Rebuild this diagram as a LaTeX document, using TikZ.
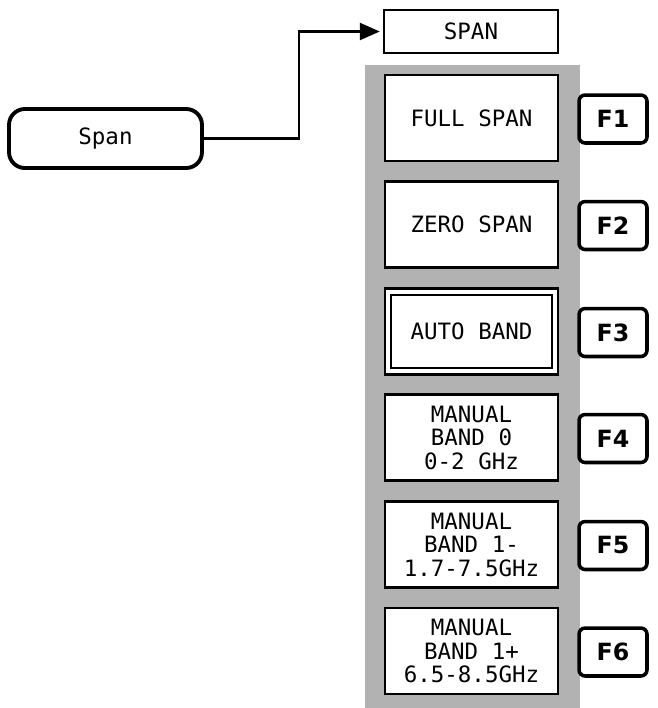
\documentclass[tikz,border=0pt]{standalone}
\usepackage{fontspec}
\setmonofont{DejaVu Sans Mono}
\setsansfont{DejaVu Sans}
\usetikzlibrary{arrows.meta}
\begin{document}
\begin{tikzpicture}[x=0.02cm,y=-0.02cm,
 menubox/.style={draw,line width=1.4pt,fill=white,minimum width=3.46cm,minimum height=1.72cm,align=center,font=\ttfamily\fontsize{12.8}{13.4}\selectfont},
 softkey/.style={draw,line width=2pt,rounded corners=3.5pt,fill=white,minimum width=1.36cm,minimum height=0.96cm,font=\sffamily\bfseries\fontsize{13.5}{15}\selectfont}]
 \useasboundingbox (0,0) rectangle (658,708);
 % grey panel behind the menu
 \fill[black!30] (365,65) rectangle (580,708);
 \node[draw,line width=1.4pt,minimum width=3.48cm,minimum height=0.86cm,font=\ttfamily\fontsize{12.8}{13.4}\selectfont] (title) at (471,31.5) {SPAN};
 \node[draw,line width=2.2pt,rounded corners=9pt,minimum width=3.86cm,minimum height=1.18cm,font=\ttfamily\fontsize{12.8}{13.4}\selectfont] (key) at (105.5,138.5) {Span};
 \draw[line width=1.4pt,-{Triangle[length=0.4cm,width=0.34cm]},shorten >=0.06cm] (key.east) -- ++(95,0) |- (title.west);
 % menu entries and soft keys
 \foreach \i/\y/\lab in {%
 1/118/{FULL SPAN},
 2/224.5/{ZERO SPAN},
 3/331.5/{AUTO BAND},
 4/437.5/{MANUAL\\BAND 0\\0-2 GHz},
 5/544.5/{MANUAL\\BAND 1-\\1.7-7.5GHz},
 6/651/{MANUAL\\BAND 1+\\6.5-8.5GHz}}
 {
 \node[menubox] (m\i) at (471.5,\y) {\lab};
 \node[softkey] (f\i) at (613,\y+1) {F\i};
 }
 \draw[line width=1.4pt] ([shift={(7,7.5)}]m3.north west) rectangle ([shift={(-7,-7.5)}]m3.south east);
\end{tikzpicture}
\end{document}
